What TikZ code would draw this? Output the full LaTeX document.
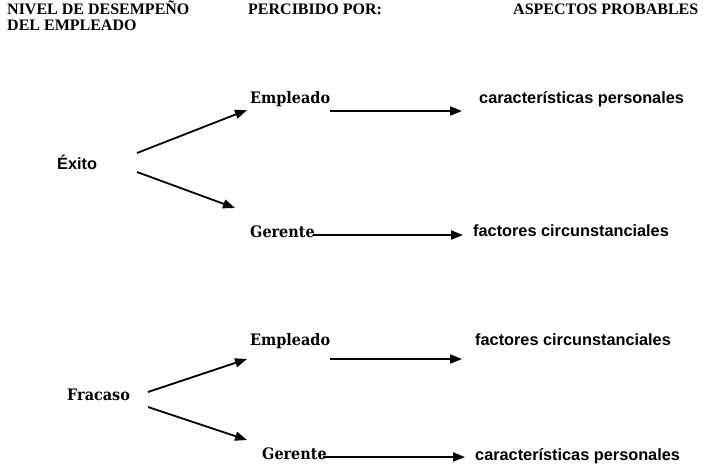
\documentclass[tikz,border=0pt]{standalone}
\usepackage{graphicx}
\usepackage{fontspec}
\setmainfont{Liberation Sans}
\newfontfamily\headfont{Liberation Serif}
\newfontfamily\roleface{DejaVu Serif}
\newcommand{\tallrole}[1]{\scalebox{1}[1.1]{#1}}
\usetikzlibrary{arrows.meta}
\begin{document}
\begin{tikzpicture}[x=1pt,y=-1pt,
  head/.style={anchor=base west,inner sep=0pt,font=\headfont\fontsize{16}{18}\selectfont\bfseries},
  label/.style={anchor=base west,inner sep=0pt,font=\fontsize{16.3}{19}\selectfont\bfseries},
  role/.style={anchor=base west,inner sep=0pt,font=\roleface\fontsize{14.4}{18}\selectfont\bfseries},
  arr/.style={line width=1.8pt,-{Triangle[length=12pt,width=9pt]}}]
\useasboundingbox (0,0) rectangle (703,464);
% column headings
\node[head] (h1)  at (7,14)   {NIVEL DE DESEMPEÑO};
\node[head] (h1b) at (7,30)   {DEL EMPLEADO};
\node[head] (h2)  at (248,14) {PERCIBIDO POR:};
\node[head] (h3)  at (513,14) {ASPECTOS PROBABLES};
% success branch
\node[label] (exito) at (57,169)  {Éxito};
\node[role]  (emp1)  at (250,103) {\tallrole{Empleado}};
\node[role]  (ger1)  at (250,237) {\tallrole{Gerente}};
\node[label] (cp1)   at (479,103) {características personales};
\node[label] (fc1)   at (473,236) {factores circunstanciales};
% failure branch
\node[role]  (fracaso) at (67,400)  {\tallrole{Fracaso}};
\node[role]  (emp2)    at (250,345) {\tallrole{Empleado}};
\node[role]  (ger2)    at (262,459) {\tallrole{Gerente}};
\node[label] (fc2)     at (475,345) {factores circunstanciales};
\node[label] (cp2)     at (475,460) {características personales};
% connectors
\draw[arr] ([shift={(80,-16)}]exito.base west) -- ([shift={(-3,7)}]emp1.base west);
\draw[arr] ([shift={(80,3)}]exito.base west) -- ([shift={(-15,-29)}]ger1.base west);
\draw[arr] ([shift={(80,8)}]emp1.base west) -- ([shift={(-17,8)}]cp1.base west);
\draw[arr] ([shift={(63,-2)}]ger1.base west) -- ([shift={(-10,-1)}]fc1.base west);
\draw[arr] ([shift={(81,-8)}]fracaso.base west) -- ([shift={(-3,14)}]emp2.base west);
\draw[arr] ([shift={(81,7)}]fracaso.base west) -- ([shift={(-15,-19)}]ger2.base west);
\draw[arr] ([shift={(80,14)}]emp2.base west) -- ([shift={(-13,14)}]fc2.base west);
\draw[arr] ([shift={(61,-2)}]ger2.base west) -- ([shift={(-10,-3)}]cp2.base west);
\end{tikzpicture}
\end{document}
